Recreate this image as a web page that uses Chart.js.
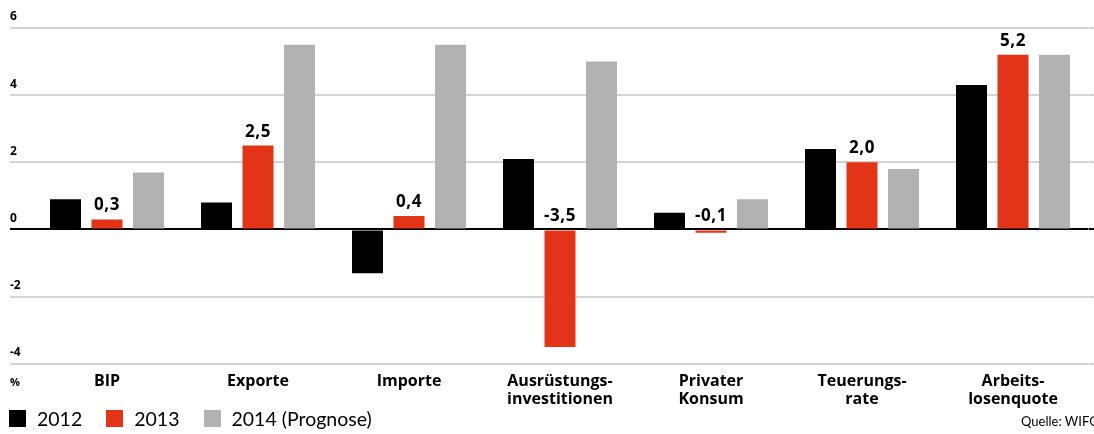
<!DOCTYPE html>
<html>
<head>
<meta charset="utf-8">
<script src="https://cdn.jsdelivr.net/npm/chart.js@4"></script>
<style>
  html, body { margin: 0; padding: 0; background: #fff; }
  #wrap { position: relative; width: 1094px; height: 434px; overflow: hidden; font-family: Lato, sans-serif; }
  #unit { position: absolute; left: 10px; top: 374px; font-family: 'Open Sans', sans-serif; font-size: 11px; font-weight: bold; color: #000; }
  #legend { position: absolute; left: 9px; top: 407px; display: flex; align-items: center; font-size: 19.5px; color: #000; }
  #legend .item { display: flex; align-items: center; margin-right: 24px; }
  #legend .box { width: 17px; height: 17px; margin-right: 11px; }
  #source { position: absolute; left: 1021px; top: 413px; font-size: 13px; color: #000; white-space: nowrap; }
</style>
</head>
<body>
<div id="wrap">
  <canvas id="chart" width="1094" height="434"></canvas>
  <div id="unit">%</div>
  <div id="legend"></div>
  <div id="source">Quelle: WIFO</div>
</div>
<script>
const categories = [
  ['BIP'],
  ['Exporte'],
  ['Importe'],
  ['Ausrüstungs-', 'investitionen'],
  ['Privater', 'Konsum'],
  ['Teuerungs-', 'rate'],
  ['Arbeits-', 'losenquote'],
];
const values2012 = [0.9, 0.8, -1.3, 2.1, 0.5, 2.4, 4.3];
const values2013 = [0.3, 2.5, 0.4, -3.5, -0.1, 2.0, 5.2];
const values2014 = [1.7, 5.5, 5.5, 5.0, 0.9, 1.8, 5.2];
const seriesNames = ['2012', '2013', '2014 (Prognose)'];
const yTicks = [-4, -2, 0, 2, 4, 6];

const colors = ['#000000', '#e33418', '#b2b2b3'];

function gridColor(ctx) {
  return ctx.tick && ctx.tick.value === 0 ? '#000000' : '#d4d4d4';
}

function setTicks(scale) {
  scale.ticks = yTicks.map((v) => ({ value: v }));
}

// numbers above the 2013 bars
const valueLabels = {
  id: 'valueLabels',
  afterDatasetsDraw(chart) {
    const { ctx } = chart;
    const meta = chart.getDatasetMeta(1);
    ctx.save();
    ctx.font = 'bold 17px "Open Sans", sans-serif';
    ctx.letterSpacing = '0.5px';
    ctx.fillStyle = '#000';
    ctx.textAlign = 'center';
    ctx.textBaseline = 'alphabetic';
    meta.data.forEach((bar, i) => {
      const top = Math.min(bar.y, bar.base);
      ctx.fillText(values2013[i].toFixed(1).replace('.', ','), bar.x, top - 9);
    });
    ctx.restore();
  },
};

const legend = document.getElementById('legend');
seriesNames.forEach((name, i) => {
  const item = document.createElement('div');
  item.className = 'item';
  item.innerHTML = `<span class="box" style="background:${colors[i]}"></span><span>${name}</span>`;
  legend.appendChild(item);
});

new Chart(document.getElementById('chart'), {
  type: 'bar',
  data: {
    labels: categories,
    datasets: [values2012, values2013, values2014].map((data, i) => ({
      label: seriesNames[i],
      data,
      backgroundColor: colors[i],
      categoryPercentage: 0.8245,
      barPercentage: 0.747,
      yAxisID: 'y',
    })),
  },
  options: {
    responsive: false,
    animation: false,
    layout: { padding: { left: 10, right: 0, top: 28, bottom: 17 } },
    plugins: {
      legend: { display: false },
      tooltip: { enabled: false },
    },
    scales: {
      x: {
        grid: { display: false, drawTicks: false },
        border: { display: false },
        ticks: {
          color: '#000',
          padding: 9,
          font: { family: 'Open Sans', size: 16, weight: 'bold', lineHeight: 1.1 },
          maxRotation: 0,
          autoSkip: false,
        },
      },
      y: {
        position: 'left',
        min: -4,
        max: 6,
        afterBuildTicks: setTicks,
        afterFit(scale) { scale.width = 21.5; },
        grid: { color: gridColor, lineWidth: 2, tickLength: 21.5 },
        border: { display: false },
        ticks: {
          color: '#000',
          crossAlign: 'far',
          labelOffset: -11,
          padding: 0,
          font: { family: 'Open Sans', size: 12, weight: 'bold' },
        },
      },
      y2: {
        position: 'right',
        min: -4,
        max: 6,
        afterBuildTicks: setTicks,
        afterFit(scale) { scale.width = 5.5; },
        grid: { color: gridColor, lineWidth: 2, tickLength: 5.5, drawOnChartArea: false },
        border: { display: false },
        ticks: { display: false },
      },
    },
  },
  plugins: [valueLabels],
});
</script>
</body>
</html>
